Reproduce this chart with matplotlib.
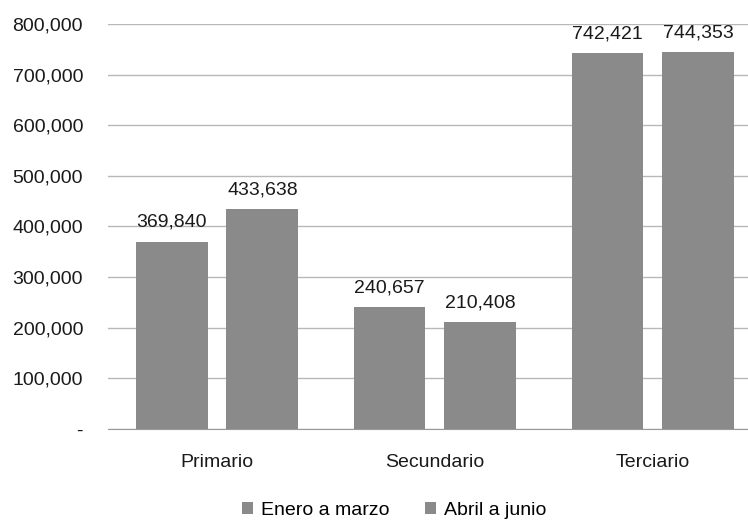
import numpy as np
import matplotlib.pyplot as plt

plt.rcParams['font.family'] = ['Liberation Sans', 'DejaVu Sans']

sectores = ['Primario', 'Secundario', 'Terciario']
enero_marzo = [369840, 240657, 742421]
abril_junio = [433638, 210408, 744353]
series = ['Enero a marzo', 'Abril a junio']

fig = plt.figure(figsize=(7.48, 5.21), dpi=100)
ax = fig.add_axes([0.1444, 0.1766, 0.8556, 0.7774])

x = np.arange(len(sectores))
w = 0.33
gap = 0.087
color = '#8a8a8a'

b1 = ax.bar(x - (w + gap) / 2, enero_marzo, w, color=color, label=series[0], zorder=2)
b2 = ax.bar(x + (w + gap) / 2, abril_junio, w, color=color, label=series[1], zorder=2)

# etiquetas de valor sobre cada barra
for bars, vals in [(b1, enero_marzo), (b2, abril_junio)]:
    for b, v in zip(bars, vals):
        ax.annotate(f'{v:,}', (b.get_x() + b.get_width() / 2, v),
                    xytext=(0, 8), textcoords='offset points',
                    ha='center', va='bottom', fontsize=14, color='#1a1a1a')

ax.set_xlim(-0.5, 2.436)
ax.set_ylim(0, 800000)
yt = np.arange(0, 800001, 100000)
ax.set_yticks(yt)
ax.set_yticklabels(['-' if v == 0 else f'{v:,}' for v in yt], fontsize=14, color='#1a1a1a')
ax.set_xticks(x)
ax.set_xticklabels(sectores, fontsize=14, color='#1a1a1a')
ax.tick_params(axis='y', length=0, pad=18)
ax.tick_params(axis='x', length=0, pad=18)

ax.grid(axis='y', color='#b8b8b8', linewidth=1, zorder=0)
for s in ['top', 'right', 'left']:
    ax.spines[s].set_visible(False)
ax.spines['bottom'].set_color('#999999')

fig.legend(loc='center', bbox_to_anchor=(0.527, 0.021), ncol=2, frameon=False,
           fontsize=14, handlelength=0.6, handleheight=0.6, handletextpad=0.4,
           columnspacing=1.8)

fig.savefig('out.png', dpi=100)
